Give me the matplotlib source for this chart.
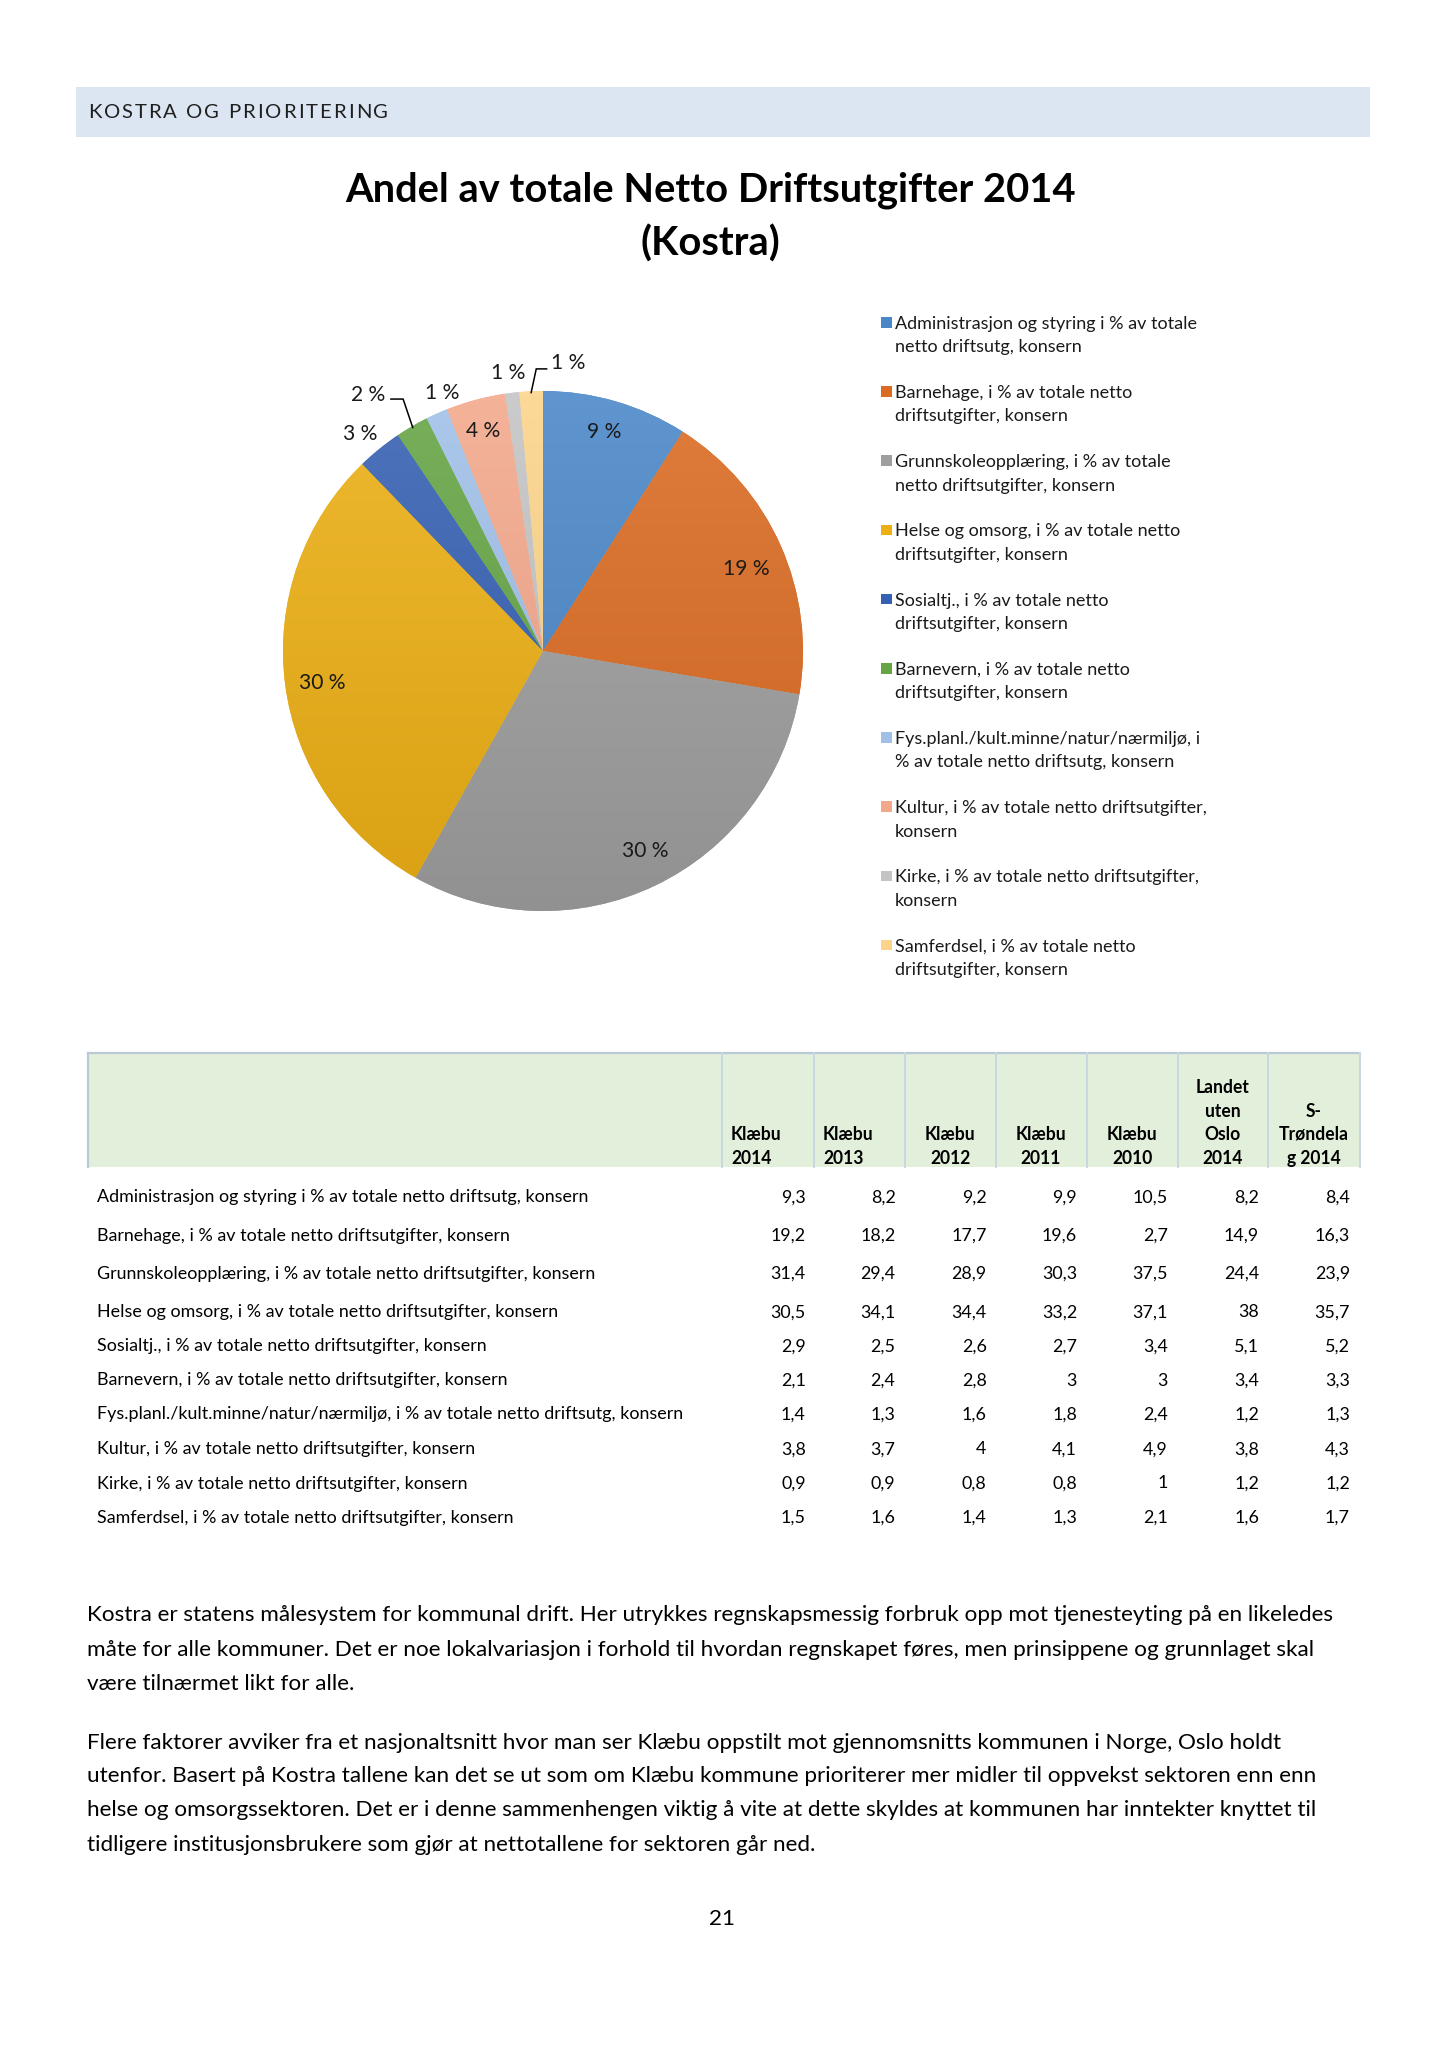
import matplotlib
matplotlib.use("Agg")
import matplotlib.pyplot as plt
import numpy as np
from matplotlib.patches import Rectangle
from matplotlib.colors import to_rgb

# ---------------- data ----------------
header_text = "KOSTRA OG PRIORITERING"
title_lines = ["Andel av totale Netto Driftsutgifter 2014", "(Kostra)"]

categories = [
    "Administrasjon og styring i % av totale netto driftsutg, konsern",
    "Barnehage, i % av totale netto driftsutgifter, konsern",
    "Grunnskoleopplæring, i % av totale netto driftsutgifter, konsern",
    "Helse og omsorg, i % av totale netto driftsutgifter, konsern",
    "Sosialtj., i % av totale netto driftsutgifter, konsern",
    "Barnevern, i % av totale netto driftsutgifter, konsern",
    "Fys.planl./kult.minne/natur/nærmiljø, i % av totale netto driftsutg, konsern",
    "Kultur, i % av totale netto driftsutgifter, konsern",
    "Kirke, i % av totale netto driftsutgifter, konsern",
    "Samferdsel, i % av totale netto driftsutgifter, konsern",
]
legend_first_line_words = [7, 6, 5, 8, 6, 6, 2, 7, 7, 6]

column_headers = ["Klæbu\n2014", "Klæbu\n2013", "Klæbu\n2012", "Klæbu\n2011",
                  "Klæbu\n2010", "Landet\nuten\nOslo\n2014", "S-\nTrøndela\ng 2014"]
klaebu_2014 = [9.3, 19.2, 31.4, 30.5, 2.9, 2.1, 1.4, 3.8, 0.9, 1.5]
klaebu_2013 = [8.2, 18.2, 29.4, 34.1, 2.5, 2.4, 1.3, 3.7, 0.9, 1.6]
klaebu_2012 = [9.2, 17.7, 28.9, 34.4, 2.6, 2.8, 1.6, 4, 0.8, 1.4]
klaebu_2011 = [9.9, 19.6, 30.3, 33.2, 2.7, 3, 1.8, 4.1, 0.8, 1.3]
klaebu_2010 = [10.5, 2.7, 37.5, 37.1, 3.4, 3, 2.4, 4.9, 1, 2.1]
landet_uten_oslo_2014 = [8.2, 14.9, 24.4, 38, 5.1, 3.4, 1.2, 3.8, 1.2, 1.6]
s_trondelag_2014 = [8.4, 16.3, 23.9, 35.7, 5.2, 3.3, 1.3, 4.3, 1.2, 1.7]
table_columns = [klaebu_2014, klaebu_2013, klaebu_2012, klaebu_2011,
                 klaebu_2010, landet_uten_oslo_2014, s_trondelag_2014]

paragraph_lines = [
    "Kostra er statens målesystem for kommunal drift. Her utrykkes regnskapsmessig forbruk opp mot tjenesteyting på en likeledes",
    "måte for alle kommuner. Det er noe lokalvariasjon i forhold til hvordan regnskapet føres, men prinsippene og grunnlaget skal",
    "være tilnærmet likt for alle.",
    "Flere faktorer avviker fra et nasjonaltsnitt hvor man ser Klæbu oppstilt mot gjennomsnitts kommunen i Norge, Oslo holdt",
    "utenfor. Basert på Kostra tallene kan det se ut som om Klæbu kommune prioriterer mer midler til oppvekst sektoren enn enn",
    "helse og omsorgssektoren. Det er i denne sammenhengen viktig å vite at dette skyldes at kommunen har inntekter knyttet til",
    "tidligere institusjonsbrukere som gjør at nettotallene for sektoren går ned.",
]
page_number = "21"

# ---------------- style ----------------
W, H, DPI = 1448, 2048, 100
FONT = ["Lato", "DejaVu Sans"]
plt.rcParams["font.family"] = FONT

slice_colors = ["#4A87C8", "#DB6B22", "#9E9E9E", "#ECAF14", "#3660B3",
                "#66A445", "#A0C0E8", "#F3A88B", "#C4C4C4", "#FCD489"]
# label placement: (angle clockwise from 12 o'clock in deg, radius in pie units)
label_place = [(15.4, 0.88), (67.6, 0.847), (152.7, 0.857), (262.3, 0.858),
               (320.1, 1.097), (325.9, 1.197), (338.9, 1.073), (344.8, 0.883),
               (352.9, 1.087), (5.0, 1.121)]
# leader lines for some labels: slice index -> (start x, elbow x, y) in pie units
leaders = {5: (-0.585, -0.538, 0.969), 9: (0.014, -0.026, 1.085)}

PCX, PCY, PR = 543, 651, 260

fig = plt.figure(figsize=(W / DPI, H / DPI), dpi=DPI)
fig.patch.set_facecolor("white")
ov = fig.add_axes([0, 0, 1, 1])
ov.set_xlim(0, W)
ov.set_ylim(H, 0)
ov.axis("off")
ov.set_zorder(2)
ov.patch.set_alpha(0)

fig.canvas.draw()
renderer = fig.canvas.get_renderer()


def width_of(s, size, weight="normal"):
    t = ov.text(0, 0, s, fontsize=size, fontweight=weight)
    w = t.get_window_extent(renderer).width
    t.remove()
    return w


def fit_size(s, target, weight="normal"):
    return 20 * target / width_of(s, 20, weight)


# ---------------- header band (letter-spaced) ----------------
ov.add_patch(Rectangle((76, 87), 1370 - 76, 50, facecolor="#DCE6F2", edgecolor="none"))
hs = 14.6
natural = width_of(header_text, hs)
extra = (300 - natural) / (len(header_text) - 1)
x = 88.0
for k, ch in enumerate(header_text):
    ov.text(x, 118.3, ch, fontsize=hs, color="#1F1F1F", va="baseline", ha="left")
    adv = width_of(header_text[:k + 1], hs) - width_of(header_text[:k], hs) if k > 0 else width_of(ch, hs)
    x += adv + extra

# ---------------- title ----------------
ts = fit_size(title_lines[0], 732, "bold")
ov.text(710.6, 201.7, title_lines[0], fontsize=ts, fontweight="bold", ha="center", va="baseline")
ov.text(710.6, 256, title_lines[1], fontsize=ts, fontweight="bold", ha="center", va="baseline")

# ---------------- pie ----------------
box = 2.5 * PR
axp = fig.add_axes([(PCX - box / 2) / W, 1 - (PCY + box / 2) / H, box / W, box / H])
axp.set_zorder(1)
wedges, _ = axp.pie(klaebu_2014, colors=slice_colors, startangle=90, counterclock=False,
                    radius=1, wedgeprops=dict(linewidth=0))
axp.set_xlim(-1.25, 1.25)
axp.set_ylim(-1.25, 1.25)
axp.axis("off")

grad = np.linspace(0, 1, 256)[:, None]
for w, c in zip(wedges, slice_colors):
    base = np.array(to_rgb(c))
    top = base + (1 - base) * 0.12
    bot = base * 0.92
    img = top[None, None, :] * (1 - grad[:, :, None]) + bot[None, None, :] * grad[:, :, None]
    im = axp.imshow(img, extent=(-1, 1, -1, 1), origin="upper", aspect="auto", zorder=2,
                    interpolation="bilinear")
    im.set_clip_path(w)

total = sum(klaebu_2014)
pcts = [v / total * 100 for v in klaebu_2014]
ps = fit_size("30 %", 46.5)
cum = np.cumsum([0] + klaebu_2014)
for i, p in enumerate(pcts):
    ang, r = label_place[i]
    a = np.deg2rad(ang)
    x, y = r * np.sin(a), r * np.cos(a)
    axp.text(x, y, f"{round(p):.0f} %", fontsize=ps, color="#1A1A1A", ha="center",
             va="center_baseline", zorder=5)
    if i in leaders:
        mid = (cum[i] + cum[i + 1]) / 2 / total * 2 * np.pi
        ex, ey = 0.995 * np.sin(mid), 0.995 * np.cos(mid)
        sx, elx, ly = leaders[i]
        axp.plot([sx, elx, ex], [ly, ly, ey], color="black", lw=1.1, zorder=5,
                 solid_joinstyle="miter")

# ---------------- legend ----------------
legend_lines = []
for cat, n in zip(categories, legend_first_line_words):
    words = cat.split(" ")
    legend_lines.append((" ".join(words[:n]), " ".join(words[n:])))
ls = fit_size(legend_lines[0][0], 302)
for i, (l1, l2) in enumerate(legend_lines):
    y = 322.3 + i * 69.2
    ov.add_patch(Rectangle((881, y - 5.25), 10.5, 10.5, facecolor=slice_colors[i], edgecolor="none"))
    ov.text(895, y, l1, fontsize=ls, color="#1A1A1A", ha="left", va="center_baseline")
    ov.text(895, y + 23.5, l2, fontsize=ls, color="#1A1A1A", ha="left", va="center_baseline")

# ---------------- table ----------------
col_edges = [722, 814, 905, 995.5, 1086.6, 1177.7, 1268, 1360]
ov.add_patch(Rectangle((88, 1053), 1360 - 88, 1167 - 1053, facecolor="#E2EFDA", edgecolor="none"))
ov.plot([88, 1360], [1053, 1053], color="#B9CAD6", lw=1.6)
ov.plot([88, 88], [1053, 1167], color="#B9CAD6", lw=1.6)
for xe in col_edges:
    ov.plot([xe, xe], [1053, 1167], color="#C8D8E4", lw=1.4)

hdr_rows = [1085.7, 1110, 1133, 1157]
hsz = fit_size("Trøndela", 69.6, "bold")
for j, hd in enumerate(column_headers):
    lines = hd.split("\n")
    start = len(hdr_rows) - len(lines)
    if j < 2:
        x, ha = col_edges[j] + 9, "left"
    else:
        x, ha = (col_edges[j] + col_edges[j + 1]) / 2, "center"
    for k, ln in enumerate(lines):
        ov.text(x, hdr_rows[start + k], ln, fontsize=hsz, fontweight="bold", ha=ha,
                va="center_baseline", color="black")

row_y = [1195.7, 1234, 1272, 1310.7, 1345, 1379, 1413, 1447.7, 1482, 1516]
val_right = [805.8, 895.5, 986.6, 1077, 1168, 1259, 1350]
rs = fit_size(categories[0], 492)


def fmt(v):
    return f"{v:g}".replace(".", ",")


for i, cat in enumerate(categories):
    ov.text(97, row_y[i], cat, fontsize=rs, ha="left", va="center_baseline", color="black")
    for j, col in enumerate(table_columns):
        ov.text(val_right[j], row_y[i], fmt(col[i]), fontsize=rs, ha="right",
                va="center_baseline", color="black")

# ---------------- paragraphs ----------------
par_y = [1613, 1648, 1682, 1741, 1774.5, 1808.5, 1843]
pss = fit_size(paragraph_lines[0], 1249)
for y, ln in zip(par_y, paragraph_lines):
    ov.text(87.4, y, ln, fontsize=pss, ha="left", va="center_baseline", color="black")

ov.text(722, 1917, page_number, fontsize=pss, ha="center", va="center_baseline", color="black")

fig.savefig("out.png", dpi=DPI, facecolor="white")
